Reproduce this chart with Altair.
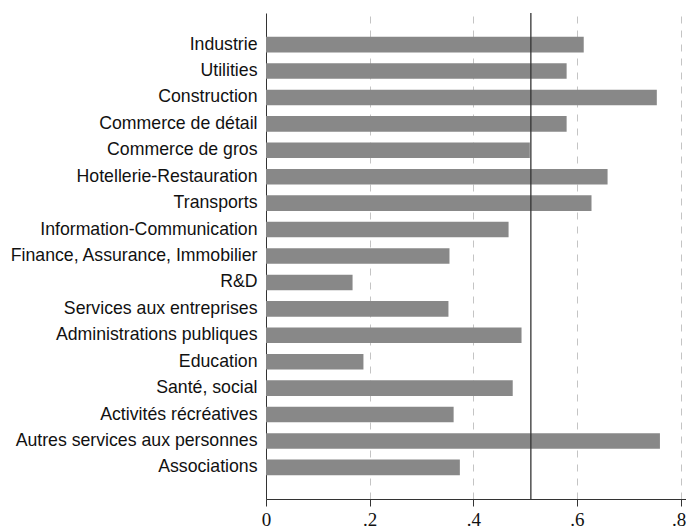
import altair as alt
import pandas as pd

sectors = [
    "Industrie", "Utilities", "Construction", "Commerce de détail",
    "Commerce de gros", "Hotellerie-Restauration", "Transports",
    "Information-Communication", "Finance, Assurance, Immobilier", "R&D",
    "Services aux entreprises", "Administrations publiques", "Education",
    "Santé, social", "Activités récréatives", "Autres services aux personnes",
    "Associations",
]
values = [0.613, 0.580, 0.754, 0.580, 0.509, 0.659, 0.628, 0.468, 0.354,
          0.167, 0.352, 0.493, 0.188, 0.476, 0.362, 0.760, 0.374]
reference_line = [0.511]
x_ticks = [0, 0.2, 0.4, 0.6, 0.8]

df = pd.DataFrame({"secteur": sectors, "valeur": values})
ref = pd.DataFrame({"ref": reference_line})

label_font = "Liberation Sans"
tick_font = "Liberation Sans Narrow"

x_scale = alt.Scale(domain=[0, 0.8103], nice=False, zero=True)

bars = alt.Chart(df).mark_bar(color="#888888").encode(
    x=alt.X(
        "valeur:Q",
        scale=x_scale,
        axis=alt.Axis(
            values=x_ticks,
            labelExpr="datum.value == 0 ? '0' : replace(format(datum.value, '.1f'), '0.', '.')",
            title=None,
            grid=True,
            gridDash=[7, 7],
            gridColor="#c4c4c4",
            gridWidth=1,
            domainColor="#333333",
            tickColor="#333333",
            tickSize=7,
            labelFont=tick_font,
            labelFontSize=19,
            labelColor="#111111",
            labelPadding=4,
            labelAlign={"condition": {"test": "datum.value >= 0.79", "value": "right"}, "value": "center"},
            labelOffset={"condition": {"test": "datum.value >= 0.79", "value": 5}, "value": 0},
        ),
    ),
    y=alt.Y(
        "secteur:N",
        sort=sectors,
        scale=alt.Scale(paddingInner=0.41, paddingOuter=0.9),
        axis=alt.Axis(
            title=None,
            ticks=False,
            domainColor="#333333",
            labelFont=label_font,
            labelFontSize=17.7,
            labelColor="#111111",
            labelPadding=9,
            labelLimit=300,
        ),
    ),
)

rule = alt.Chart(ref).mark_rule(color="#333333", strokeWidth=1.3).encode(
    x=alt.X("ref:Q", scale=x_scale),
)

chart = alt.layer(bars, rule).properties(
    width=420,
    height=486,
    padding={"left": 258, "top": 5, "right": 0, "bottom": 30},
    autosize=alt.AutoSizeParams(type="none"),
    background="white",
).configure_view(stroke=None)

chart.save("out.html", embed_options={"renderer": "svg", "actions": False})
